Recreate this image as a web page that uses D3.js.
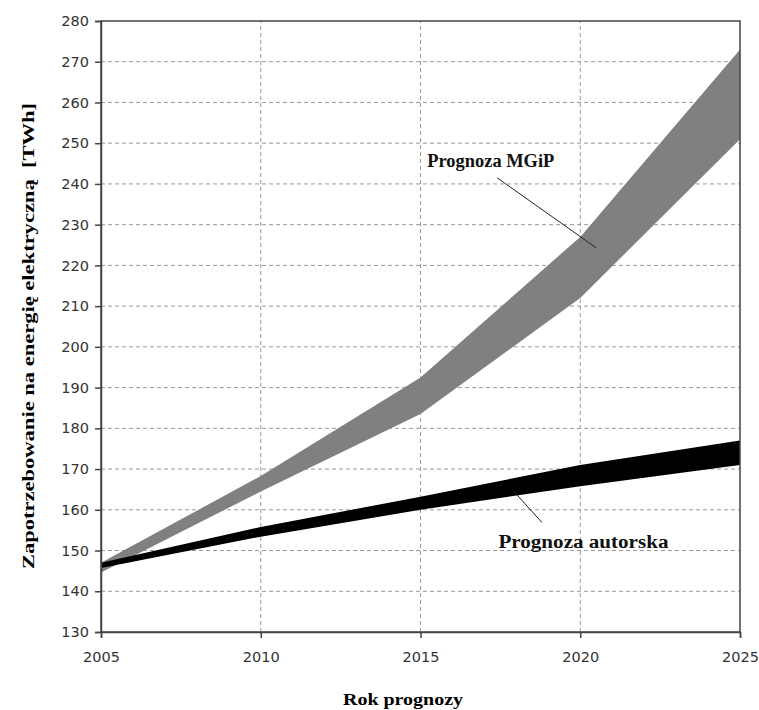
<!DOCTYPE html>
<html>
<head>
<meta charset="utf-8">
<script src="https://cdn.jsdelivr.net/npm/d3@7"></script>
<style>
  body { margin: 0; background: #fff; }
  .tick text { font-family: "DejaVu Sans", sans-serif; font-size: 14.5px; fill: #333; }
</style>
</head>
<body>
<script>
const width = 759;
const height = 710;
const margin = { top: 21, right: 19, bottom: 78, left: 101 };

// data
const years = [2005, 2010, 2015, 2020, 2025];
const mgipLow = [144.6, 164.5, 183.5, 212, 251];
const mgipHigh = [147, 168.3, 192.5, 227, 273];
const autLow = [145.7, 153.4, 160, 165.8, 171];
const autHigh = [147, 155.8, 163.2, 171, 177];

const xTicks = [2005, 2010, 2015, 2020, 2025];
const yTicks = d3.range(130, 281, 10);

const svg = d3.select("body").append("svg")
    .attr("width", width)
    .attr("height", height);

const x = d3.scaleLinear().domain([2005, 2025]).range([margin.left, width - margin.right]);
const y = d3.scaleLinear().domain([130, 280]).range([height - margin.bottom, margin.top]);

// grid
svg.append("g")
    .selectAll("line")
    .data(yTicks.slice(1, -1))
    .join("line")
    .attr("x1", x(2005)).attr("x2", x(2025))
    .attr("y1", d => y(d)).attr("y2", d => y(d))
    .attr("stroke", "#999").attr("stroke-dasharray", "4,3");

svg.append("g")
    .selectAll("line")
    .data(xTicks.slice(1, -1))
    .join("line")
    .attr("x1", d => x(d)).attr("x2", d => x(d))
    .attr("y1", y(130)).attr("y2", y(280))
    .attr("stroke", "#999").attr("stroke-dasharray", "4,3");

// bands
const area = (lo, hi) => d3.area()
    .x((d, i) => x(years[i]))
    .y0((d, i) => y(lo[i]))
    .y1((d, i) => y(hi[i]))(years);

svg.append("path").attr("d", area(mgipLow, mgipHigh)).attr("fill", "#808080");
svg.append("path").attr("d", area(autLow, autHigh)).attr("fill", "#000");

// frame
svg.append("rect")
    .attr("x", x(2005)).attr("y", y(280))
    .attr("width", x(2025) - x(2005)).attr("height", y(130) - y(280))
    .attr("fill", "none").attr("stroke", "#444").attr("stroke-width", 1.5);

// axes
const yAxis = d3.axisLeft(y).tickValues(yTicks).tickSize(6).tickPadding(6);
svg.append("g")
    .attr("transform", `translate(${margin.left},0)`)
    .call(yAxis)
    .call(g => g.select(".domain").attr("stroke", "#444").attr("stroke-width", 1.5))
    .call(g => g.selectAll(".tick line").attr("stroke", "#444").attr("stroke-width", 1.5));

const xAxis = d3.axisBottom(x).tickValues(xTicks).tickFormat(d3.format("d")).tickSize(6).tickPadding(14);
svg.append("g")
    .attr("transform", `translate(0,${height - margin.bottom})`)
    .call(xAxis)
    .call(g => g.select(".domain").attr("stroke", "#444").attr("stroke-width", 1.5))
    .call(g => g.selectAll(".tick line").attr("stroke", "#444").attr("stroke-width", 1.5));

// axis titles (the original looks stretched, so fit the text to its length)
const serif = "'Liberation Serif', 'DejaVu Serif', serif";
svg.append("text")
    .attr("transform", `translate(34,336) rotate(-90)`)
    .attr("text-anchor", "middle")
    .attr("font-family", serif).attr("font-weight", "bold").attr("font-size", 16)
    .attr("textLength", 466).attr("lengthAdjust", "spacingAndGlyphs")
    .attr("xml:space", "preserve")
    .text("Zapotrzebowanie na energię elektryczną  [TWh]");

svg.append("text")
    .attr("x", 403).attr("y", 705)
    .attr("text-anchor", "middle")
    .attr("font-family", serif).attr("font-weight", "bold").attr("font-size", 16)
    .attr("textLength", 120).attr("lengthAdjust", "spacingAndGlyphs")
    .text("Rok prognozy");

// annotations
const notes = [
    { text: "Prognoza MGiP", len: 127, at: [2017.2, 244.2], from: [2017.4, 241.5], to: [2020.5, 224.3] },
    { text: "Prognoza autorska", len: 170, at: [2020.1, 150.6], from: [2017.9, 164.7], to: [2018.8, 156.9] }
];

notes.forEach(n => {
    svg.append("line")
        .attr("x1", x(n.from[0])).attr("y1", y(n.from[1]))
        .attr("x2", x(n.to[0])).attr("y2", y(n.to[1]))
        .attr("stroke", "#222").attr("stroke-width", 1);
    svg.append("text")
        .attr("x", x(n.at[0])).attr("y", y(n.at[1]))
        .attr("text-anchor", "middle")
        .attr("font-family", serif).attr("font-weight", "bold").attr("font-size", 18)
        .attr("textLength", n.len).attr("lengthAdjust", "spacingAndGlyphs")
        .attr("fill", "#111")
        .text(n.text);
});
</script>
</body>
</html>
